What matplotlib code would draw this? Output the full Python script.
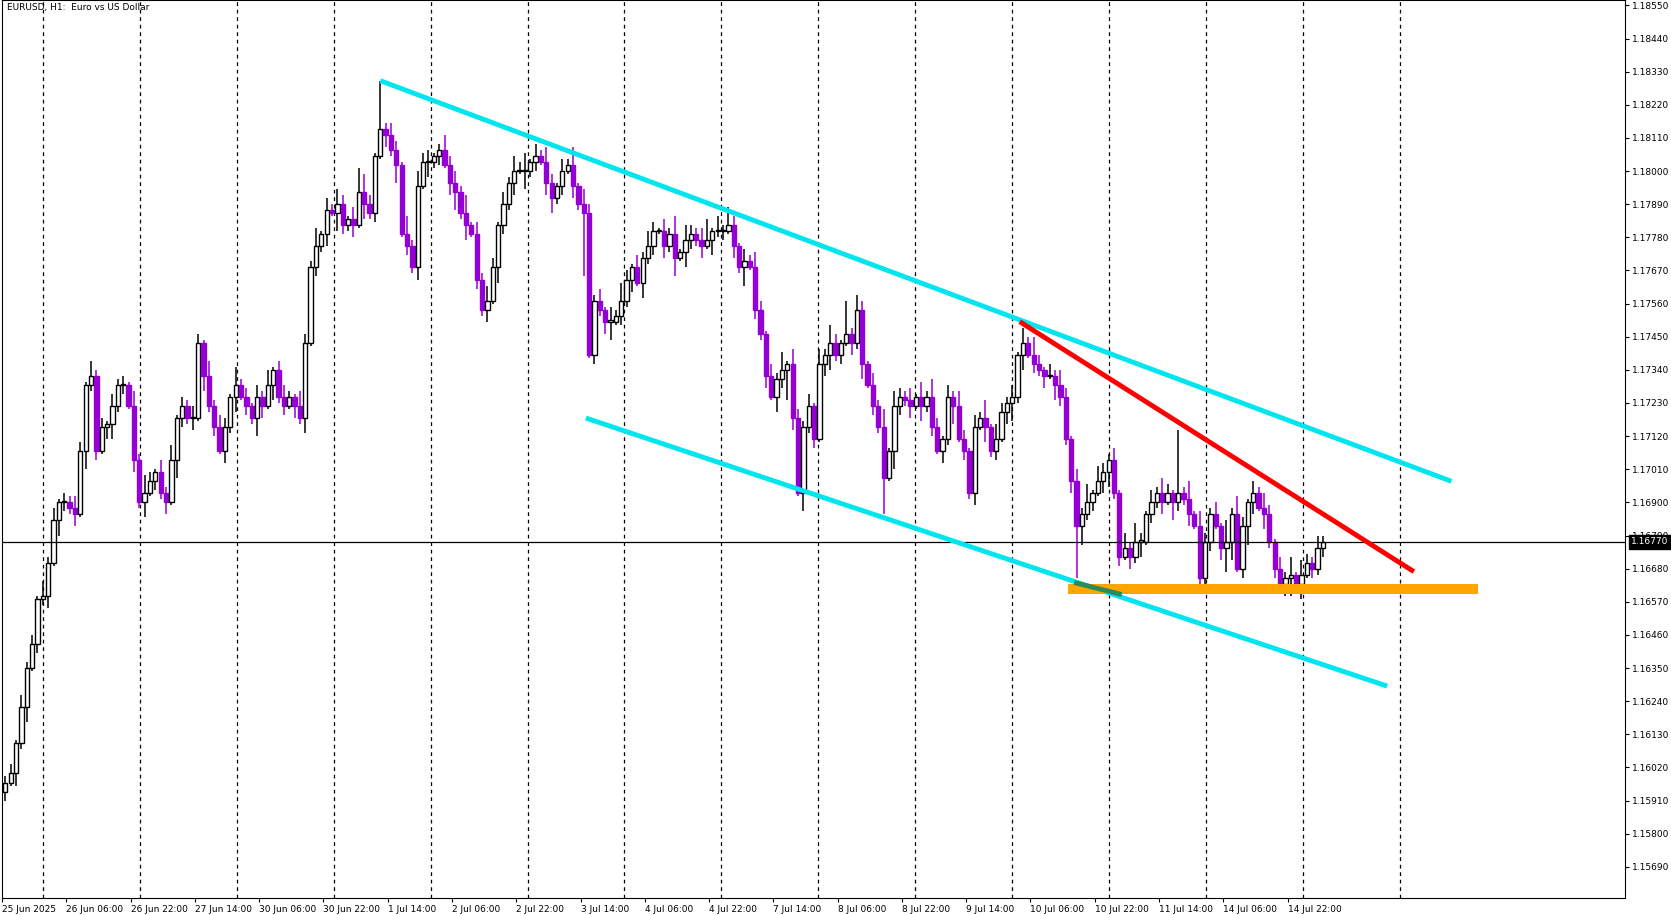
import matplotlib
matplotlib.use("Agg")
import matplotlib.pyplot as plt
from matplotlib.patches import Rectangle

# closes in pips above 1.1500
closes = [97,100,110,122,135,143,158,159,170,184,190,190,188,186,207,229,232,207,215,216,
          222,229,229,222,204,190,193,197,200,193,190,204,218,222,218,218,243,232,222,215,
          207,215,225,229,225,222,218,225,222,229,234,225,222,225,222,218,243,268,275,279,
          287,286,289,282,284,282,293,289,286,305,314,312,307,302,279,275,268,295,303,303,
          305,307,302,296,293,286,282,279,264,254,257,268,282,289,296,300,300,300,303,305,
          303,296,291,295,300,302,295,289,286,239,257,254,250,250,252,257,264,268,263,271,
          275,280,280,275,279,271,273,277,279,277,275,277,280,280,280,282,275,268,270,268,
          254,246,232,225,231,234,236,218,193,215,222,211,236,239,243,239,243,246,243,254,
          236,229,222,215,198,207,222,225,224,222,225,222,225,215,207,211,225,222,211,207,
          193,215,218,215,207,211,220,223,225,239,243,239,236,234,232,232,229,225,211,197,
          182,186,190,193,197,200,204,193,172,175,172,177,177,186,190,193,190,193,190,193,
          191,186,182,165,177,186,182,175,177,186,168,182,190,193,188,186,177,168,163,165,
          166,163,166,170,168,175,177]
up_wick = [int(c) for c in (
    "2314231524132431523142315263142513243152431623142513"
    "4215326142531426315243162534125342614253142536142531"
    "4261532415263142531426153243152631425314261532415263"
    "1425314261532415263142531426153241526314253142615324"
    "15263142531426153241526314253142615324")]
dn_wick = [int(c) for c in (
    "3142513241532416231452314251324163241523142513264152"
    "3142513241632415231426132415231462513241532416231452"
    "3142513246132415231426153241523142613241532416231452"
    "3142513241632415231426132415231462513241532416231452"
    "31425132416324152314261324152314625132")]
spike_hi = {70: 16, 66: 8, 115: 6, 131: 7, 157: 11, 219: 21, 228: 7}
spike_lo = {108: 21, 200: 17, 146: 10, 164: 12, 228: 8, 232: 6}

ylabels = [1.15690 + 0.0011 * k for k in range(27)]
xlabels = ["25 Jun 2025", "26 Jun 06:00", "26 Jun 22:00", "27 Jun 14:00", "30 Jun 06:00",
           "30 Jun 22:00", "1 Jul 14:00", "2 Jul 06:00", "2 Jul 22:00", "3 Jul 14:00",
           "4 Jul 06:00", "4 Jul 22:00", "7 Jul 14:00", "8 Jul 06:00", "8 Jul 22:00",
           "9 Jul 14:00", "10 Jul 06:00", "10 Jul 22:00", "11 Jul 14:00", "14 Jul 06:00",
           "14 Jul 22:00"]
current_price = 1.16770
upper_chan = ([70, 270], [1.1830, 1.1697])
lower_chan = ([108.4, 258], [1.1718, 1.1629])
red_line = ([189.4, 263], [1.1750, 1.1667])
support = (198.4, 275, 1.16595, 1.16630)

def P(p):
    return 1.15 + p / 10000.0

W, H = 1560.0, 854.0
fig = plt.figure(figsize=(16.71, 9.15), dpi=100)
ax = fig.add_axes([2/W, 1 - 838/H, 1515/W, 838/H])
ax.set_xlim(-0.6, 302.4)
ax.set_ylim(P(58.7), P(356.8))

purple = "#9400D3"
n = len(closes)
for i in range(n):
    c = closes[i]
    o = closes[i-1] if i > 0 else closes[0] - 3
    hi = max(o, c) + spike_hi.get(i, up_wick[i % len(up_wick)])
    lo = min(o, c) - spike_lo.get(i, dn_wick[i % len(dn_wick)])
    bull = c >= o
    col = "black" if bull else purple
    ax.vlines(i, P(lo), P(hi), color=col, lw=1.1, zorder=2)
    h = max(abs(c - o), 0.4)
    ax.add_patch(Rectangle((i - 0.4, P(min(o, c))), 0.8, h / 10000.0,
                           facecolor="white" if bull else purple,
                           edgecolor=col, lw=1.0, zorder=3))

for k in range(15):
    ax.axvline(7 + 18.1 * k, color="black", ls=(0, (3, 3)), lw=0.9, zorder=1)

ax.axhline(current_price, color="black", lw=0.9, zorder=4)
ax.plot(*upper_chan, color="#00E5EE", lw=3.5, zorder=5, solid_capstyle="butt")
ax.plot(*lower_chan, color="#00E5EE", lw=3.5, zorder=5, solid_capstyle="butt")
ax.plot(*red_line, color="#FF0000", lw=3.5, zorder=5, solid_capstyle="butt")
ax.add_patch(Rectangle((support[0], support[2]), support[1] - support[0],
                       support[3] - support[2], facecolor="#FFA500", edgecolor="none", zorder=6))
ax.plot([200, 208], [1.16632, 1.16596], color="#2E8B57", lw=3.5, zorder=7)

ax.yaxis.tick_right()
ax.set_yticks(ylabels)
ax.set_yticklabels([f"{v:.5f}" for v in ylabels], fontsize=6.5)
ax.tick_params(axis="y", length=3, pad=2)
ax.set_xticks([-0.6 + 12 * k for k in range(len(xlabels))])
ax.set_xticklabels(xlabels, fontsize=6.5, ha="left")
ax.tick_params(axis="x", length=3, pad=2)
for s in ax.spines.values():
    s.set_linewidth(0.8)

ax.text(303.6, current_price, f"{current_price:.5f}", fontsize=6.5,
        color="white", va="center", ha="left",
        bbox=dict(facecolor="black", edgecolor="black", pad=1.8), zorder=10, clip_on=False)
ax.text(0.003, 0.997, "EURUSD, H1:  Euro vs US Dollar", transform=ax.transAxes,
        fontsize=6.5, va="top", ha="left")

fig.savefig("out.png", dpi=100, facecolor="white")
